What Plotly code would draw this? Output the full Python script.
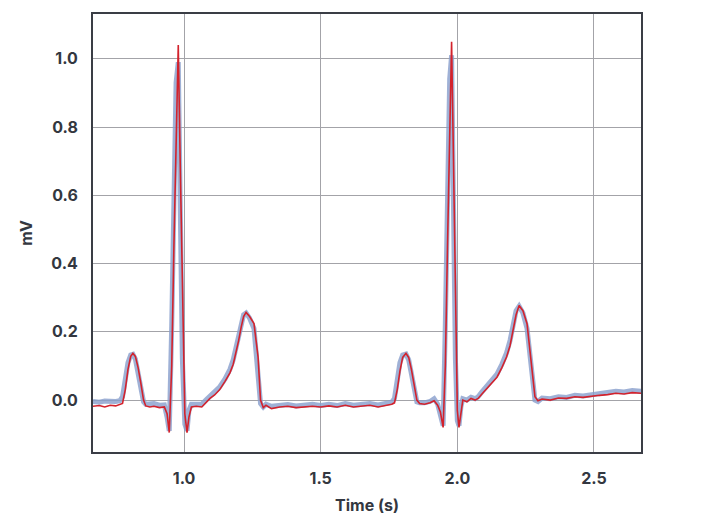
import plotly.graph_objects as go

# time (s) shared by both traces
time_s = [
    0.667, 0.69, 0.71, 0.73, 0.75, 0.765, 0.775,
    0.785, 0.795, 0.805, 0.813, 0.822, 0.832, 0.842, 0.852, 0.86,
    0.875, 0.89, 0.91, 0.928, 0.938,
    0.946, 0.955, 0.963, 0.971, 0.979, 0.986, 0.994, 1.003, 1.011, 1.018, 1.027,
    1.045, 1.065, 1.08, 1.095, 1.112, 1.13, 1.15, 1.168, 1.18, 1.19, 1.2,
    1.209, 1.218, 1.227, 1.24, 1.256, 1.265, 1.271, 1.28, 1.29,
    1.30, 1.32, 1.35, 1.38, 1.41, 1.44, 1.47, 1.50, 1.53, 1.56, 1.59, 1.62,
    1.65, 1.68, 1.71, 1.74, 1.76, 1.77,
    1.78, 1.79, 1.80, 1.812, 1.822, 1.832, 1.842, 1.852, 1.862,
    1.88, 1.90, 1.915, 1.928, 1.938,
    1.948, 1.956, 1.964, 1.972, 1.979, 1.986, 1.993, 2.0, 2.006, 2.013, 2.02,
    2.035, 2.05, 2.065, 2.076, 2.09, 2.109, 2.127, 2.145, 2.163, 2.18, 2.193,
    2.204, 2.215, 2.226, 2.24, 2.255, 2.264, 2.273, 2.284, 2.295,
    2.31, 2.34, 2.37, 2.40, 2.43, 2.46, 2.49, 2.52, 2.55, 2.58, 2.61, 2.64, 2.672,
]

# measured signal (thick blue-grey)
measured_mv = [
    -0.004, -0.006, -0.003, -0.005, -0.004, -0.002, 0.01,
    0.06, 0.11, 0.132, 0.134, 0.12, 0.08, 0.035, -0.005, -0.012,
    -0.012, -0.01, -0.015, -0.014, -0.05,
    -0.09, 0.22, 0.6, 0.93, 0.99, 0.5, 0.12, -0.07, -0.09, -0.03, -0.012,
    -0.012, -0.012, 0.0, 0.012, 0.022, 0.038, 0.062, 0.09, 0.118, 0.15, 0.19,
    0.225, 0.25, 0.255, 0.24, 0.21, 0.14, 0.09, -0.01, -0.02,
    -0.012, -0.018, -0.014, -0.013, -0.017, -0.014, -0.012, -0.016, -0.012,
    -0.016, -0.01, -0.015, -0.013, -0.01, -0.014, -0.01, -0.006, 0.005,
    0.06, 0.11, 0.132, 0.135, 0.118, 0.075, 0.03, -0.005, -0.008,
    -0.008, -0.004, 0.004, -0.012, -0.045,
    -0.075, 0.22, 0.6, 0.94, 1.01, 0.5, 0.12, -0.06, -0.075, -0.02, 0.004,
    0.0, 0.008, 0.004, 0.01, 0.024, 0.042, 0.058, 0.076, 0.105, 0.138, 0.175,
    0.22, 0.262, 0.275, 0.255, 0.21, 0.14, 0.075, 0.0, -0.004,
    0.006, 0.004, 0.01, 0.008, 0.014, 0.012, 0.016, 0.018, 0.022, 0.026,
    0.024, 0.028, 0.026,
]

# reconstructed signal (thin red)
reconstructed_mv = [
    -0.018, -0.016, -0.02, -0.015, -0.017, -0.014, -0.01,
    0.03, 0.09, 0.128, 0.137, 0.128, 0.095, 0.05, 0.0, -0.017,
    -0.02, -0.018, -0.022, -0.02, -0.04,
    -0.095, 0.1, 0.45, 0.8, 1.04, 0.7, 0.3, -0.04, -0.095, -0.05, -0.02,
    -0.018, -0.02, -0.008, 0.005, 0.015, 0.03, 0.055, 0.08, 0.105, 0.137, 0.175,
    0.213, 0.245, 0.257, 0.245, 0.224, 0.17, 0.126, 0.0, -0.022,
    -0.015, -0.025, -0.02, -0.018, -0.022, -0.02, -0.018, -0.02, -0.017,
    -0.02, -0.015, -0.02, -0.018, -0.015, -0.02, -0.015, -0.012, -0.008,
    0.03, 0.085, 0.125, 0.137, 0.125, 0.09, 0.045, 0.0, -0.01,
    -0.012, -0.008, -0.002, -0.015, -0.035,
    -0.08, 0.1, 0.45, 0.8, 1.05, 0.7, 0.3, -0.03, -0.08, -0.04, 0.0,
    -0.005, 0.005, 0.0, 0.005, 0.018, 0.035, 0.05, 0.067, 0.095, 0.126, 0.16,
    0.204, 0.25, 0.277, 0.262, 0.224, 0.16, 0.097, 0.01, -0.002,
    0.003, 0.0, 0.006, 0.005, 0.01, 0.008, 0.012, 0.014, 0.016, 0.02,
    0.018, 0.022, 0.02,
]

x_ticks = [1.0, 1.5, 2.0, 2.5]
y_ticks = [0.0, 0.2, 0.4, 0.6, 0.8, 1.0]

font_main = "Inter, Roboto, sans-serif"
text_color = "#333740"

fig = go.Figure()

fig.add_trace(
    go.Scatter(
        x=time_s,
        y=measured_mv,
        mode="lines",
        line=dict(color="rgba(135,158,204,0.8)", width=5),
        name="measured",
    )
)

fig.add_trace(
    go.Scatter(
        x=time_s,
        y=reconstructed_mv,
        mode="lines",
        line=dict(color="#d3222c", width=1.6),
        name="reconstructed",
    )
)

# the page body adds an 8px offset, margins compensate for it
fig.update_layout(
    width=702,
    height=530,
    template="plotly_white",
    showlegend=False,
    paper_bgcolor="white",
    plot_bgcolor="white",
    margin=dict(t=4, r=69, b=86, l=85),
    font=dict(family=font_main, size=16, color=text_color),
)

fig.update_xaxes(
    range=[0.667, 2.672],
    tickvals=x_ticks,
    ticktext=[f"<b>{v:.1f}</b>" for v in x_ticks],
    showgrid=True,
    gridcolor="#a3a3a8",
    gridwidth=1,
    zeroline=False,
    showline=True,
    linecolor="#3a3d45",
    linewidth=2,
    mirror=True,
    ticks="",
    ticklabelstandoff=11,
    title=dict(text="<b>Time (s)</b>", standoff=13, font=dict(size=16)),
)

fig.update_yaxes(
    range=[-0.152, 1.131],
    tickvals=y_ticks,
    ticktext=[f"<b>{v:.1f}</b>" for v in y_ticks],
    showgrid=True,
    gridcolor="#a3a3a8",
    gridwidth=1,
    zeroline=False,
    showline=True,
    linecolor="#3a3d45",
    linewidth=2,
    mirror=True,
    ticks="",
    ticklabelstandoff=10,
    title=dict(text="<b>mV</b>", standoff=15, font=dict(size=16)),
)

fig.write_html("out.html")
